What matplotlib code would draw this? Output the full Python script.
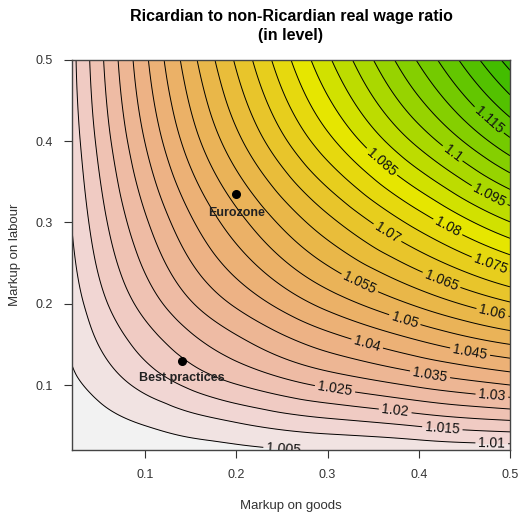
import colorsys
import numpy as np
import matplotlib
matplotlib.use("Agg")
import matplotlib.pyplot as plt
import matplotlib.tri as mtri

plt.rcParams['font.family'] = ['Liberation Sans', 'DejaVu Sans']

# ---- data ----
markup_goods = [0.02, 0.05, 0.10, 0.15, 0.20, 0.30, 0.40, 0.50]
markup_labour = [0.02, 0.05, 0.10, 0.15, 0.20, 0.30, 0.40, 0.50]
# rows: markup on labour, columns: markup on goods
wage_ratio = [
    [1.0009, 1.0015, 1.0025, 1.0031, 1.0038, 1.0053, 1.0064, 1.0074],
    [1.0019, 1.0030, 1.0050, 1.0072, 1.0092, 1.0126, 1.0153, 1.0177],
    [1.0040, 1.0066, 1.0115, 1.0160, 1.0198, 1.0259, 1.0308, 1.0350],
    [1.0058, 1.0102, 1.0170, 1.0231, 1.0282, 1.0368, 1.0438, 1.0500],
    [1.0075, 1.0133, 1.0219, 1.0295, 1.0358, 1.0467, 1.0560, 1.0644],
    [1.0102, 1.0179, 1.0292, 1.0392, 1.0479, 1.0633, 1.0770, 1.0898],
    [1.0122, 1.0213, 1.0351, 1.0475, 1.0585, 1.0784, 1.0965, 1.1140],
    [1.0135, 1.0235, 1.0389, 1.0531, 1.0657, 1.0890, 1.1106, 1.1320],
]
level_start, level_stop, level_step = 1.0, 1.155, 0.005
points_names = ["Eurozone", "Best practices"]
points_goods = [0.20, 0.14]
points_labour = [0.335, 0.13]
labelled_levels = [1.005, 1.01, 1.015, 1.02, 1.025, 1.03, 1.035, 1.04, 1.045,
                   1.05, 1.055, 1.06, 1.065, 1.07, 1.075, 1.08, 1.085, 1.095,
                   1.1, 1.115]
label_spots = [(0.252, 0.0235), (0.48, 0.027), (0.4257, 0.0444), (0.374, 0.0667),
               (0.309, 0.101), (0.48, 0.085), (0.4126, 0.1148), (0.344, 0.153),
               (0.456, 0.1395), (0.385, 0.1815), (0.337, 0.2296), (0.48, 0.186),
               (0.4246, 0.2284), (0.366, 0.288), (0.477, 0.243), (0.431, 0.293),
               (0.359, 0.374), (0.475, 0.328), (0.4355, 0.3827), (0.475, 0.4235)]


def terrain_colors(n):
    k = n // 2
    cols = []
    for i in range(k):
        t = i / (k - 1)
        h = 4 / 12 + (2 / 12 - 4 / 12) * t
        v = 0.65 + (0.9 - 0.65) * t
        cols.append(colorsys.hsv_to_rgb(h, 1.0, v))
    m = n - k
    for j in range(1, m + 1):
        t = j / m
        h = 2 / 12 * (1 - t)
        s = 1 - t
        v = 0.9 + 0.05 * t
        cols.append(colorsys.hsv_to_rgb(h, s, v))
    return cols


levels = np.round(np.arange(level_start, level_stop + level_step / 2, level_step), 3)
band_colors = terrain_colors(len(levels) - 1)[::-1]

gx, gy = np.meshgrid(markup_goods, markup_labour)
tri = mtri.Triangulation(gx.ravel(), gy.ravel())
interp = mtri.CubicTriInterpolator(tri, np.array(wage_ratio).ravel(), kind='min_E')
fx = np.linspace(markup_goods[0], markup_goods[-1], 300)
fy = np.linspace(markup_labour[0], markup_labour[-1], 300)
FX, FY = np.meshgrid(fx, fy)
FZ = interp(FX, FY)

fig = plt.figure(figsize=(5.2, 5.14), dpi=100)
ax = fig.add_axes([72 / 520, 1 - 450 / 514, (510 - 72) / 520, (450 - 60) / 514])

ax.contourf(FX, FY, FZ, levels=levels, colors=band_colors)
plain = [lv for lv in levels if not any(abs(lv - l2) < 1e-9 for l2 in labelled_levels)]
ax.contour(FX, FY, FZ, levels=plain, colors='black', linewidths=0.7)
for lv, spot in zip(labelled_levels, label_spots):
    cs1 = ax.contour(FX, FY, FZ, levels=[lv], colors='black', linewidths=0.7)
    if len(cs1.allsegs[0]) == 0:
        continue
    txts = ax.clabel(cs1, manual=[spot], inline=True, fontsize=10,
                     fmt=lambda v: f"{v:g}", colors='#111111', inline_spacing=3)
    for t in txts:
        t.set_clip_on(True)

ax.plot(points_goods, points_labour, 'o', color='black', markersize=5.5)
ax.text(points_goods[0], points_labour[0] - 0.0235, points_names[0], ha='center',
        va='center', fontsize=9, fontweight='bold', color='#222222')
ax.text(points_goods[1], points_labour[1] - 0.0215, points_names[1], ha='center',
        va='center', fontsize=9, fontweight='bold', color='#222222')

ax.set_xlim(markup_goods[0], markup_goods[-1])
ax.set_ylim(markup_labour[0], markup_labour[-1])
ticks = [0.1, 0.2, 0.3, 0.4, 0.5]
ax.set_xticks(ticks)
ax.set_yticks(ticks)
ax.set_xticklabels([f"{t:g}" for t in ticks])
ax.set_yticklabels([f"{t:g}" for t in ticks])
ax.tick_params(direction='out', length=6, width=0.8, labelsize=9, pad=8, colors='#333333')
for sp in ax.spines.values():
    sp.set_color('#444444')
    sp.set_linewidth(1.0)

fig.text(291 / 520, 1 - 26 / 514, "Ricardian to non-Ricardian real wage ratio\n(in level)",
         ha='center', va='center', fontsize=11.5, fontweight='bold', linespacing=1.3)
fig.text(291 / 520, 1 - 506 / 514, "Markup on goods", ha='center', va='center', fontsize=9.5,
         color='#333333')
fig.text(15 / 520, 1 - 255 / 514, "Markup on labour", ha='center', va='center', fontsize=9.5,
         rotation=90, color='#333333')

fig.savefig("out.png", dpi=100)
